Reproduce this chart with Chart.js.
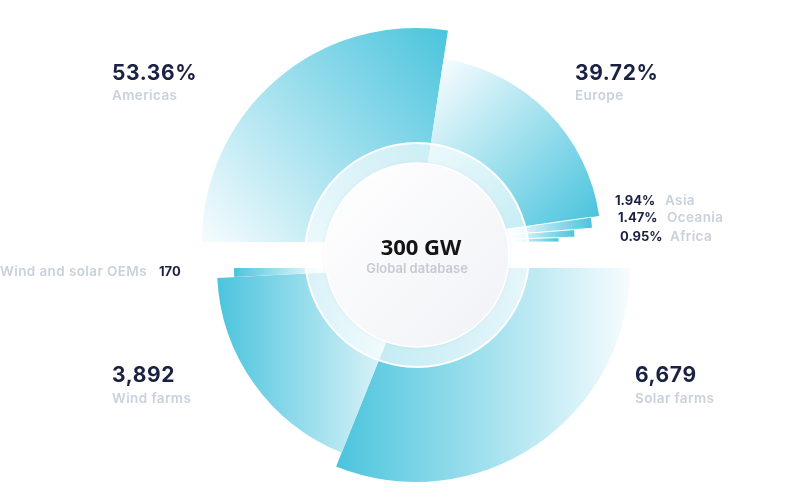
<!DOCTYPE html>
<html>
<head>
<meta charset="utf-8">
<script src="https://cdn.jsdelivr.net/npm/chart.js@4/dist/chart.umd.min.js"></script>
<style>
html,body{margin:0;padding:0;background:#fff;}
#wrap{position:relative;width:803px;height:493px;overflow:hidden;font-family:Inter,'Open Sans',sans-serif;}
#wrap canvas{position:absolute;left:0;top:0;}
.num{position:absolute;font-weight:700;color:#1a2142;font-size:21px;line-height:21px;letter-spacing:0.6px;white-space:nowrap;}
.lab{position:absolute;font-weight:600;color:#c9d1dc;font-size:13.5px;line-height:13.5px;letter-spacing:0.4px;white-space:nowrap;}
.snum{position:absolute;font-weight:700;color:#1a2142;font-size:13px;line-height:13px;white-space:nowrap;}
#ctitle{position:absolute;left:421px;top:235px;transform:translateX(-50%);font-family:'Open Sans',sans-serif;font-weight:700;font-size:22px;line-height:22px;color:#141414;white-space:nowrap;}
#csub{position:absolute;left:417px;top:262px;transform:translateX(-50%);font-weight:600;font-size:13px;line-height:13px;color:#c5cad3;white-space:nowrap;}
</style>
</head>
<body>
<div id="wrap">
  <canvas id="top" width="803" height="493"></canvas>
  <canvas id="bottom" width="803" height="493"></canvas>
  <div id="labels"></div>
</div>
<script>
// ---- data ----
const regionLabels = ['Americas', 'Europe', 'Asia', 'Oceania', 'Africa'];
const regionShares = [53.36, 39.72, 1.94, 1.47, 0.95];
const assetLabels = ['Solar farms', 'Wind farms', 'Wind and solar OEMs'];
const assetCounts = [6679, 3892, 170];
const centerTitle = '300 GW';
const centerSubtitle = 'Global database';

// ---- style / layout ----
const CYAN = '#4bc4dd';
const PALE = '#f6fcfe';
const GEOM = {
  regions: { cx: 416, cy: 242, radii: [214, 185, 177, 159, 143] },
  assets:  { cx: 416, cy: 268, radii: [214, 199, 182] }
};
const RING = { cx: 417, cy: 255, outer: 112, inner: 92 };

function makeGrad(c, el, g) {
  const r = el.outerRadius, a0 = el.startAngle, a1 = el.endAngle;
  let x0, y0, x1, y1;
  if (a1 - a0 < 0.2) {
    const m = (a0 + a1) / 2;
    x0 = g.cx + 95 * Math.cos(m); y0 = g.cy + 95 * Math.sin(m);
    x1 = g.cx + r * Math.cos(m);  y1 = g.cy + r * Math.sin(m);
  } else if (g === GEOM.assets) {
    x0 = g.cx + r * Math.max(Math.cos(a0), 0); x1 = g.cx + r * Math.cos(a1); y0 = y1 = g.cy;
  } else {
    x0 = g.cx + r * Math.cos(a0); y0 = g.cy + r * Math.sin(a0);
    x1 = g.cx + r * Math.cos(a1); y1 = g.cy + r * Math.sin(a1);
  }
  const gr = c.createLinearGradient(x0, y0, x1, y1);
  gr.addColorStop(0, PALE);
  gr.addColorStop(1, CYAN);
  return gr;
}

function shapePlugin(key) {
  return {
    id: 'shape_' + key,
    beforeDatasetsDraw(chart) {
      const g = GEOM[key];
      const meta = chart.getDatasetMeta(0);
      meta.data.forEach((el, i) => {
        el.x = g.cx; el.y = g.cy;
        el.innerRadius = 0;
        el.outerRadius = g.radii[i];
        el.options = Object.assign({}, el.options, { backgroundColor: makeGrad(chart.ctx, el, g) });
      });
    }
  };
}

const centerPlugin = {
  id: 'center',
  afterDatasetsDraw(chart) {
    const c = chart.ctx;
    c.save();
    c.beginPath();
    c.arc(RING.cx, RING.cy, RING.outer, 0, Math.PI * 2);
    c.fillStyle = 'rgba(255,255,255,0.62)';
    c.fill();
    c.lineWidth = 2;
    c.strokeStyle = '#ffffff';
    c.stroke();
    const gr = c.createLinearGradient(RING.cx - RING.inner, RING.cy - RING.inner, RING.cx + RING.inner, RING.cy + RING.inner);
    gr.addColorStop(0, '#ffffff');
    gr.addColorStop(1, '#f1f2f6');
    c.shadowColor = 'rgba(140,160,180,0.15)';
    c.shadowBlur = 5;
    c.beginPath();
    c.arc(RING.cx, RING.cy, RING.inner, 0, Math.PI * 2);
    c.fillStyle = gr;
    c.fill();
    c.shadowBlur = 0;
    c.lineWidth = 1.5;
    c.strokeStyle = '#ffffff';
    c.stroke();
    c.restore();
  }
};

const baseOptions = {
  responsive: false,
  animation: false,
  events: [],
  layout: { padding: 0 },
  plugins: { legend: { display: false }, tooltip: { enabled: false } }
};

new Chart(document.getElementById('top'), {
  type: 'doughnut',
  data: {
    labels: regionLabels,
    datasets: [{
      data: regionShares,
      rotation: -90,
      circumference: 180,
      borderWidth: [0, 0, 1, 1, 1],
      borderColor: 'rgba(255,255,255,0.9)',
      backgroundColor: CYAN
    }]
  },
  options: Object.assign({ cutout: 0 }, baseOptions),
  plugins: [shapePlugin('regions')]
});

new Chart(document.getElementById('bottom'), {
  type: 'doughnut',
  data: {
    labels: assetLabels,
    datasets: [{
      data: assetCounts,
      rotation: 90,
      circumference: 180,
      borderWidth: 0,
      backgroundColor: CYAN
    }]
  },
  options: Object.assign({ cutout: 0 }, baseOptions),
  plugins: [shapePlugin('assets'), centerPlugin]
});

// ---- text labels ----
const L = document.getElementById('labels');
function add(cls, text, css) {
  const d = document.createElement('div');
  d.className = cls;
  d.textContent = text;
  Object.assign(d.style, css);
  L.appendChild(d);
  return d;
}
const pct = v => v.toFixed(2) + '%';
const cnt = v => v.toLocaleString('en-US');

// big region labels
add('num', pct(regionShares[0]), { left: '112px', top: '62px' });
add('lab', regionLabels[0], { left: '112px', top: '89px' });
add('num', pct(regionShares[1]), { left: '575px', top: '62px' });
add('lab', regionLabels[1], { left: '575px', top: '89px' });
// small region labels
const smallPos = [[615, 665, 194], [618, 667, 211], [620, 670, 230]];
for (let i = 2; i < 5; i++) {
  const p = smallPos[i - 2];
  add('snum', pct(regionShares[i]), { left: p[0] + 'px', top: p[2] + 'px' });
  add('lab', regionLabels[i], { left: p[1] + 'px', top: p[2] + 'px' });
}
// asset labels
add('num', cnt(assetCounts[0]), { left: '635px', top: '364px' });
add('lab', assetLabels[0], { left: '635px', top: '392px' });
add('num', cnt(assetCounts[1]), { left: '112px', top: '364px' });
add('lab', assetLabels[1], { left: '112px', top: '392px' });
add('lab', assetLabels[2], { right: (803 - 147) + 'px', top: '265px' });
add('snum', cnt(assetCounts[2]), { left: '159px', top: '265px' });

const t = document.createElement('div'); t.id = 'ctitle'; t.textContent = centerTitle; document.getElementById('wrap').appendChild(t);
const s = document.createElement('div'); s.id = 'csub'; s.textContent = centerSubtitle; document.getElementById('wrap').appendChild(s);
</script>
</body>
</html>
